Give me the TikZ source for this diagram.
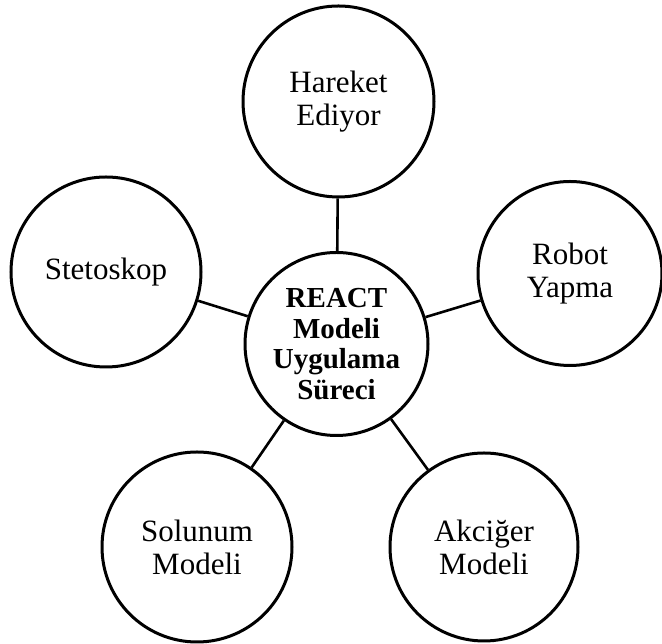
\documentclass[tikz,border=0pt]{standalone}
\usepackage{fontspec}
\setmainfont{Liberation Serif}
\begin{document}
\begin{tikzpicture}[x=1pt,y=1pt,
  bubble/.style={draw=black, line width=3pt, circle, inner sep=0pt, align=center,
    font=\fontsize{31}{33}\selectfont},
  hub/.style={bubble, font=\fontsize{29}{30.5}\selectfont\bfseries},
  link/.style={draw=black, line width=2.6pt}]
\useasboundingbox (0,0) rectangle (662,644);
\node[hub, minimum size=183pt] (hub) at (336.5,300) {REACT\\Modeli\\Uygulama\\Süreci};
\node[bubble, minimum size=191pt] (top) at (338.5,542.5) {Hareket\\Ediyor};
\node[bubble, minimum size=190pt] (left) at (106,372) {Stetoskop};
\node[bubble, minimum size=184pt] (right) at (570,370.5) {Robot\\Yapma};
\node[bubble, minimum size=190pt] (bl) at (197,97) {Solunum\\Modeli};
\node[bubble, minimum size=188pt] (br) at (484,97) {Akciğer\\Modeli};
\draw[link] (hub) -- (top);
\draw[link] (hub) -- (left);
\draw[link] (hub) -- (right);
\draw[link] (hub) -- (bl);
\draw[link] (hub) -- (br);
\end{tikzpicture}
\end{document}
